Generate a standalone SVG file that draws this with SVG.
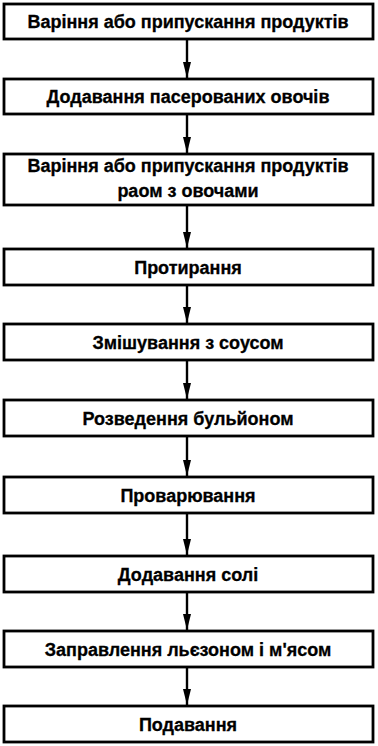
<svg xmlns="http://www.w3.org/2000/svg" width="378" height="746" viewBox="0 0 378 746">
<style>
.box{fill:#fff;stroke:#000;stroke-width:2.8}
.lbl{font-family:"Liberation Sans",Arial,sans-serif;font-weight:bold;font-size:18px;fill:#000;stroke:#000;stroke-width:0.3;text-anchor:middle}
.conn{stroke:#000;stroke-width:2.4;fill:none}
</style>
<defs>
<marker id="ah" viewBox="0 0 16 8" refX="16" refY="4" markerWidth="16" markerHeight="8" markerUnits="userSpaceOnUse" orient="auto">
<path d="M0,0 L16,4 L0,8 Z" fill="#000"/>
</marker>
</defs>
<rect width="378" height="746" fill="#fff"/>
<g id="connectors">
<line class="conn" x1="187" y1="39" x2="187" y2="78" marker-end="url(#ah)"/>
<line class="conn" x1="187" y1="114" x2="187" y2="153" marker-end="url(#ah)"/>
<line class="conn" x1="187" y1="205" x2="187" y2="248" marker-end="url(#ah)"/>
<line class="conn" x1="187" y1="285" x2="187" y2="323" marker-end="url(#ah)"/>
<line class="conn" x1="187" y1="360" x2="187" y2="399" marker-end="url(#ah)"/>
<line class="conn" x1="187" y1="436" x2="187" y2="476" marker-end="url(#ah)"/>
<line class="conn" x1="187" y1="513" x2="187" y2="555" marker-end="url(#ah)"/>
<line class="conn" x1="187" y1="592" x2="187" y2="630" marker-end="url(#ah)"/>
<line class="conn" x1="187" y1="667" x2="187" y2="705" marker-end="url(#ah)"/>
</g>
<g id="n1"><rect class="box" x="4" y="4" width="369" height="35"/><text class="lbl" x="188" y="28">Варіння або припускання продуктів</text></g>
<g id="n2"><rect class="box" x="4" y="79" width="369" height="35"/><text class="lbl" x="188" y="103">Додавання пасерованих овочів</text></g>
<g id="n3"><rect class="box" x="4" y="154" width="369" height="51"/><text class="lbl" x="188" y="172">Варіння або припускання продуктів</text><text class="lbl" x="188" y="197">раом з овочами</text></g>
<g id="n4"><rect class="box" x="4" y="249" width="369" height="36"/><text class="lbl" x="188" y="274">Протирання</text></g>
<g id="n5"><rect class="box" x="4" y="324" width="369" height="36"/><text class="lbl" x="188" y="349">Змішування з соусом</text></g>
<g id="n6"><rect class="box" x="4" y="400" width="369" height="36"/><text class="lbl" x="188" y="425">Розведення бульйоном</text></g>
<g id="n7"><rect class="box" x="4" y="477" width="369" height="36"/><text class="lbl" x="188" y="502">Проварювання</text></g>
<g id="n8"><rect class="box" x="4" y="556" width="369" height="36"/><text class="lbl" x="188" y="581">Додавання солі</text></g>
<g id="n9"><rect class="box" x="4" y="631" width="369" height="36"/><text class="lbl" x="188" y="656">Заправлення льєзоном і м'ясом</text></g>
<g id="n10"><rect class="box" x="4" y="706" width="369" height="36"/><text class="lbl" x="188" y="731">Подавання</text></g>
</svg>
